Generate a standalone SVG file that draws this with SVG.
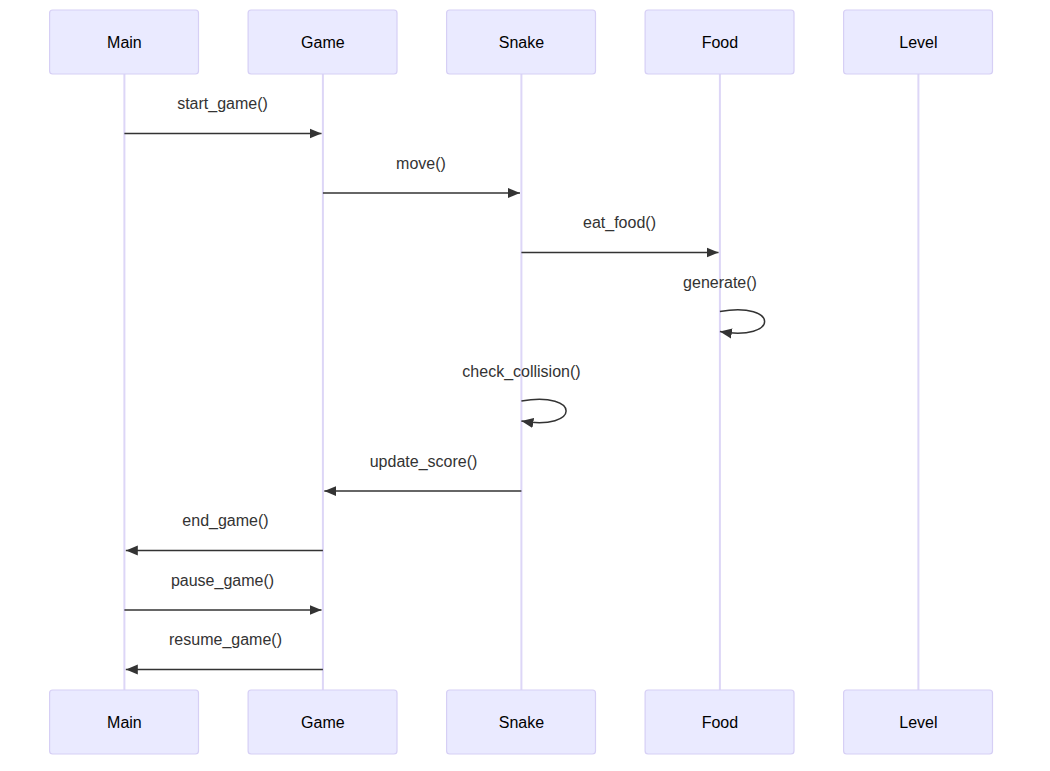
<svg xmlns="http://www.w3.org/2000/svg" width="1050" height="771" viewBox="0 0 1050 771">
<style>
.actor{fill:#eaeaff;stroke:#d6cff5;stroke-width:1.2}
.alabel{font-family:"Liberation Sans",Arial,sans-serif;font-size:16px;fill:#000;text-anchor:middle}
.life{stroke:#ddd6f7;stroke-width:2}
.msg{stroke:#333;stroke-width:1.5;fill:none}
.mlabel{font-family:"Liberation Sans",Arial,sans-serif;font-size:16px;fill:#333;text-anchor:middle}
</style>
<defs>
<marker id="arrow" viewBox="0 0 12 12" refX="12" refY="6" markerWidth="12" markerHeight="12" markerUnits="userSpaceOnUse" orient="auto">
<path d="M0,1 L12,6 L0,11 z" fill="#333"/>
</marker>
</defs>
<rect width="1050" height="771" fill="#fff"/>
<g id="lifelines">
<line class="life" x1="124.4" y1="74" x2="124.4" y2="690"/>
<line class="life" x1="322.9" y1="74" x2="322.9" y2="690"/>
<line class="life" x1="521.4" y1="74" x2="521.4" y2="690"/>
<line class="life" x1="719.9" y1="74" x2="719.9" y2="690"/>
<line class="life" x1="918.4" y1="74" x2="918.4" y2="690"/>
</g>
<g id="actor-main-top"><rect class="actor" x="49.6" y="10" width="148.9" height="64" rx="3"/><text class="alabel" x="124.4" y="47.5">Main</text></g>
<g id="actor-game-top"><rect class="actor" x="248.1" y="10" width="148.9" height="64" rx="3"/><text class="alabel" x="322.9" y="47.5">Game</text></g>
<g id="actor-snake-top"><rect class="actor" x="446.6" y="10" width="148.9" height="64" rx="3"/><text class="alabel" x="521.4" y="47.5">Snake</text></g>
<g id="actor-food-top"><rect class="actor" x="645.1" y="10" width="148.9" height="64" rx="3"/><text class="alabel" x="719.9" y="47.5">Food</text></g>
<g id="actor-level-top"><rect class="actor" x="843.6" y="10" width="148.9" height="64" rx="3"/><text class="alabel" x="918.4" y="47.5">Level</text></g>
<g id="actor-main-bottom"><rect class="actor" x="49.6" y="690" width="148.9" height="64" rx="3"/><text class="alabel" x="124.4" y="727.5">Main</text></g>
<g id="actor-game-bottom"><rect class="actor" x="248.1" y="690" width="148.9" height="64" rx="3"/><text class="alabel" x="322.9" y="727.5">Game</text></g>
<g id="actor-snake-bottom"><rect class="actor" x="446.6" y="690" width="148.9" height="64" rx="3"/><text class="alabel" x="521.4" y="727.5">Snake</text></g>
<g id="actor-food-bottom"><rect class="actor" x="645.1" y="690" width="148.9" height="64" rx="3"/><text class="alabel" x="719.9" y="727.5">Food</text></g>
<g id="actor-level-bottom"><rect class="actor" x="843.6" y="690" width="148.9" height="64" rx="3"/><text class="alabel" x="918.4" y="727.5">Level</text></g>
<g id="connectors">
<text class="mlabel" x="222.5" y="108.5">start_game()</text>
<line class="msg" x1="124.4" y1="133.5" x2="321.5" y2="133.5" marker-end="url(#arrow)"/>
<text class="mlabel" x="421" y="168.5">move()</text>
<line class="msg" x1="322.9" y1="193" x2="520" y2="193" marker-end="url(#arrow)"/>
<text class="mlabel" x="619.5" y="227.5">eat_food()</text>
<line class="msg" x1="521.4" y1="252.5" x2="718.5" y2="252.5" marker-end="url(#arrow)"/>
<text class="mlabel" x="720" y="287.5">generate()</text>
<path class="msg" d="M719.9,311.5 C779.5,301.5 779.5,341.5 719.9,331.5" marker-end="url(#arrow)"/>
<text class="mlabel" x="521.5" y="377">check_collision()</text>
<path class="msg" d="M521.4,401 C581,391 581,431 521.4,421" marker-end="url(#arrow)"/>
<text class="mlabel" x="423.5" y="466.5">update_score()</text>
<line class="msg" x1="521.4" y1="491" x2="324.3" y2="491" marker-end="url(#arrow)"/>
<text class="mlabel" x="225.5" y="526">end_game()</text>
<line class="msg" x1="322.9" y1="550.5" x2="125.8" y2="550.5" marker-end="url(#arrow)"/>
<text class="mlabel" x="222.5" y="586">pause_game()</text>
<line class="msg" x1="124.4" y1="610" x2="321.5" y2="610" marker-end="url(#arrow)"/>
<text class="mlabel" x="225.5" y="645">resume_game()</text>
<line class="msg" x1="322.9" y1="669.5" x2="125.8" y2="669.5" marker-end="url(#arrow)"/>
</g>
</svg>
